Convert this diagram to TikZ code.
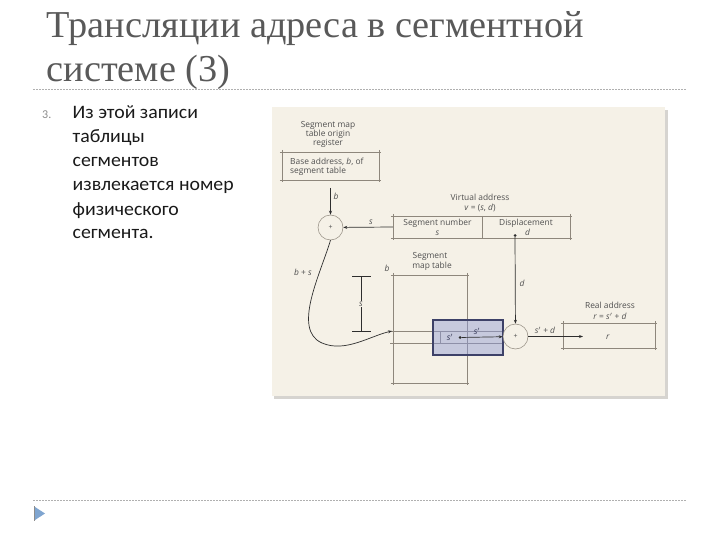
\documentclass[tikz,border=0pt]{standalone}
\usepackage{fontspec}
\setmainfont{Liberation Serif}
\newfontfamily\titlefont{Liberation Serif}
\newfontfamily\bodyfont{Carlito}
\newfontfamily\diafont{Open Sans}
\usetikzlibrary{arrows.meta}
\definecolor{titlegray}{HTML}{595959}
\definecolor{bodyblack}{HTML}{1A1A1A}
\definecolor{numgray}{HTML}{8C8C8C}
\definecolor{cream}{HTML}{F5F1E7}
\definecolor{shadowgray}{HTML}{D6D4D0}
\definecolor{boxgray}{HTML}{8E877C}
\definecolor{conngray}{HTML}{2E2E2E}
\definecolor{dtextgray}{HTML}{505050}
\definecolor{selfill}{HTML}{C6C9DD}
\definecolor{seldraw}{HTML}{3D4168}
\definecolor{selline}{HTML}{8E90A8}
\definecolor{sepgray}{HTML}{B0B0B0}
\definecolor{triblue}{HTML}{7FA5D0}
\newsavebox\measbox
\newcommand\mkbox[1]{%
  \draw[boxline] ([xshift=-2pt]#1.north west) -- ([xshift=2pt]#1.north east);
  \draw[boxline] ([xshift=-2pt]#1.south west) -- ([xshift=2pt]#1.south east);
  \draw[boxline] ([yshift=2pt]#1.north west) -- ([yshift=-2pt]#1.south west);
  \draw[boxline] ([yshift=2pt]#1.north east) -- ([yshift=-2pt]#1.south east);}
\tikzset{
  boxline/.style={draw=boxgray, line width=0.5pt},
  conn/.style={draw=conngray, line width=0.7pt},
  arr/.style={-{Stealth[length=4pt,width=3pt]}},
  dtext/.style={inner sep=0pt, text=dtextgray, font=\diafont\fontsize{8.4}{9.5}\selectfont, align=center},
  blankbox/.style={draw=none, inner sep=0pt},
  adder/.style={circle, draw=boxgray, fill=cream, line width=0.5pt, minimum size=25pt, inner sep=0pt, text=dtextgray, font=\diafont\fontsize{7}{8}\selectfont},
  dotn/.style={circle, fill=conngray, minimum size=3pt, inner sep=0pt},
  sepline/.style={draw=sepgray, line width=0.7pt, dash pattern=on 2pt off 1pt},
}
\begin{document}
\setbox\measbox=\hbox{\titlefont\fontsize{38}{44}\selectfont Трансляции адреса в сегментной}%
\pgfmathsetmacro\tsc{537/\the\wd\measbox}%
\setbox\measbox=\hbox{\bodyfont\fontsize{19}{24}\selectfont извлекается номер}%
\pgfmathsetmacro\bsc{161/\the\wd\measbox}%
\begin{tikzpicture}[x=1pt,y=-1pt]
\useasboundingbox (0,0) rectangle (720,540);
\fill[white] (0,0) rectangle (720,540);
% title
\node[anchor=base west, inner sep=0pt, text=titlegray] (t1) at (46.5,38)
  {\scalebox{\tsc}[1]{\titlefont\fontsize{38}{44}\selectfont Трансляции адреса в сегментной}};
\node[anchor=base west, inner sep=0pt, text=titlegray] (t2) at (46.5,82)
  {\scalebox{\tsc}[1]{\titlefont\fontsize{38}{44}\selectfont системе (3)}};
\draw[sepline] (33,89) -- (686,89);
\draw[sepline] (33,500) -- (686,500);
% triangle
\fill[triblue] (35,507) -- (45,513.5) -- (35,520) -- cycle;
\draw[numgray, line width=0.6pt] (34.5,506) -- (34.5,521);
% body
\node[anchor=base west, inner sep=0pt, text=numgray] (n3) at (42,119)
  {\bodyfont\fontsize{12}{14}\selectfont 3.};
\foreach \txt [count=\i] in {Из этой записи, таблицы, сегментов, извлекается номер, физического, сегмента.}{
  \node[anchor=base west, inner sep=0pt, text=bodyblack] (b\i) at (72.5,{95+24*\i})
    {\scalebox{\bsc}[1]{\bodyfont\fontsize{19}{24}\selectfont \txt}};
}
% panel
\fill[shadowgray] (274,110) rectangle (668,399);
\fill[cream] (272,107) rectangle (665,396);
% register
\node[dtext] (rt1) at (328,125) {Segment map};
\node[dtext] (rt2) at (328,134) {table origin};
\node[dtext] (rt3) at (328,143) {register};
\node[blankbox, minimum width=97pt, minimum height=28pt] (reg) at (330.5,166) {};
\mkbox{reg}
\node[dtext, anchor=west] (rg1) at (290,162) {Base address, \textit{b}, of};
\node[dtext, anchor=west] (rg2) at (290,171.5) {segment table};
% adder 1
\node[adder] (c1) at (330.5,227.5) {+};
\coordinate (bstart) at (330.5,188);
\draw[conn, arr] (bstart) -- (c1);
\node[dtext] (lb) at (336,196) {\textit{b}};
% virtual address
\node[dtext] (vt1) at (480,197.5) {Virtual address};
\node[dtext] (vt2) at (480,207.5) {\textit{v} = (\textit{s}, \textit{d})};
\node[blankbox, minimum width=177pt, minimum height=22pt] (vbox) at (481.5,227) {};
\mkbox{vbox}
\draw[boxline] (482,216) -- (482,238);
\node[dtext] (vsn) at (437.5,227.3) {Segment number\\\textit{s}};
\node[dtext] (vdp) at (526,227.3) {Displacement\\\hspace*{3pt}\textit{d}};
\node[dotn] (ddot) at (515,235.5) {};
\draw[conn, arr] (vbox.west) -- (c1);
\node[dtext] (ls) at (371,222) {\textit{s}};
% segment map table
\node[dtext] (st1) at (430,256.5) {Segment};
\node[dtext] (st2) at (432,266.5) {map table};
\node[dtext] (lb2) at (387,268) {\textit{b}};
\node[blankbox, minimum width=74pt, minimum height=108pt] (smt) at (430,329) {};
\mkbox{smt}
\draw[boxline] (390,331) -- (433,331);
\draw[boxline] (390,343) -- (433,343);
% selected entry
\node[draw=seldraw, fill=selfill, line width=1.4pt, minimum width=70pt, minimum height=35pt, inner sep=0pt] (sel) at (468,337.5) {};
\draw[selline, line width=0.5pt] (433.7,331) -- (502.3,331);
\draw[selline, line width=0.5pt] (433.7,343) -- (502.3,343);
\draw[selline, line width=0.5pt] (440,331) -- (440,343);
\draw[selline, line width=0.5pt] (467,320.7) -- (467,354.3);
\node[dtext, text=seldraw!80!black] (se) at (450,337.5) {\textit{s}$'$};
\node[dotn] (sdot) at (460,337.5) {};
\node[dtext, text=seldraw!80!black] (ls2) at (477,331) {\textit{s}$'$};
% adder 2
\node[adder] (c2) at (515.5,336.5) {+};
\draw[conn, arr] (ddot) -- (c2);
\node[dtext] (ld) at (522,283) {\textit{d}};
\draw[conn, arr] (sdot) -- (c2);
% scale bar
\draw[conn, line width=0.5pt] (361,276) -- (361,331);
\draw[conn, line width=0.5pt] (352,276) -- (371,276);
\draw[conn, line width=0.5pt] (352,331) -- (371,331);
\node[dtext, fill=cream, inner sep=1pt] (lss) at (361,304) {\textit{s}};
% curve b+s
\coordinate (rowin) at (392,331);
\draw[conn, arr] (c1.south) .. controls (320,275) and (292,330) .. (322,343)
  .. controls (345,353) and (370,336) .. (rowin);
\node[dtext] (lbs) at (303,272) {\textit{b} + \textit{s}};
% real address
\node[dtext] (ra1) at (610,305.5) {Real address};
\node[dtext] (ra2) at (610,316) {\textit{r} = \textit{s}$'$ + \textit{d}};
\node[blankbox, minimum width=92pt, minimum height=25pt] (rbox) at (609,335.5) {};
\mkbox{rbox}
\node[dtext] (rr) at (608,337) {\textit{r}};
\coordinate (rin) at (583,336.5);
\draw[conn, arr] (c2) -- (rin);
\node[dtext] (lsd) at (545,330) {\textit{s}$'$ + \textit{d}};
\end{tikzpicture}
\end{document}
